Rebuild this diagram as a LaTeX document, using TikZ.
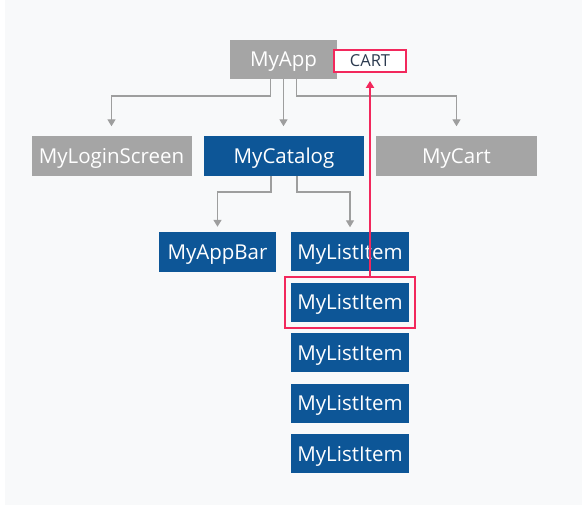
\documentclass[tikz,border=0pt]{standalone}
\usepackage{fontspec}
\setmainfont{Open Sans}
\usetikzlibrary{arrows.meta,fit}
\definecolor{boxgray}{HTML}{A5A5A5}
\definecolor{boxblue}{HTML}{0D5697}
\definecolor{linkgray}{HTML}{9E9E9E}
\definecolor{hired}{HTML}{F2285C}
\definecolor{cartink}{HTML}{2B3A4F}
\definecolor{bg}{HTML}{F8F9FA}
\begin{document}
\begin{tikzpicture}[x=1pt,y=-1pt,
  widget/.style={text=white, font=\fontsize{20.5}{22}\selectfont, minimum height=40pt, inner sep=0pt,
                 text height=14.6pt, text depth=0pt},
  gray widget/.style={widget, fill=boxgray},
  blue widget/.style={widget, fill=boxblue},
  link/.style={draw=linkgray, line width=1.4pt, -{Triangle[width=8pt,length=7pt]}},
  push/.style={draw=hired, line width=1.8pt, -{Triangle[width=8pt,length=7pt]}}]

\useasboundingbox (0,0) rectangle (582,510);
\fill [white] (0,0) rectangle (582,510);
\fill [bg] (5,0) rectangle (582,505);

\node [gray widget, minimum width=107pt, minimum height=39pt] (app) at (283.5,59.5) {MyApp};
\node [draw=hired, line width=1.8pt, fill=white, text=cartink, font=\fontsize{16.5}{18}\selectfont,
       text height=11.8pt, text depth=0pt,
       minimum width=72pt, minimum height=22pt, inner sep=0pt] (cart) at (370,61) {CART};

\node [gray widget, minimum width=160pt] (login) at (111.5,156) {MyLoginScreen};
\node [blue widget, minimum width=160pt] (catalog) at (284,156) {MyCatalog};
\node [gray widget, minimum width=161pt] (mycart) at (456.5,156) {MyCart};

\node [blue widget, minimum width=117pt] (appbar) at (217.5,252) {MyAppBar};
\foreach \i/\y in {1/252, 2/302.5, 3/353, 4/403.5, 5/454}
  \node [blue widget, minimum width=118pt, minimum height=39pt] (item\i) at (350,\y) {MyListItem};

\node [draw=hired, line width=1.8pt, fit=(item2), inner sep=6pt] (sel) {};

\draw [link, shorten >=9.5pt] ([xshift=-13pt]app.south) -- ++(0,17) -| (login.north);
\draw [link, shorten >=9.5pt] (app.south) -- (app.south |- catalog.north);
\draw [link, shorten >=9.5pt] ([xshift=13pt]app.south) -- ++(0,17) -| (mycart.north);

\draw [link, shorten >=5pt] ([xshift=-13pt]catalog.south) -- ++(0,16) -| (appbar.north);
\draw [link, shorten >=5pt] ([xshift=13pt]catalog.south) -- ++(0,16) -| (item1.north);

\draw [push, shorten >=8pt] (sel.north -| cart.south) -- (cart.south);

\end{tikzpicture}
\end{document}
